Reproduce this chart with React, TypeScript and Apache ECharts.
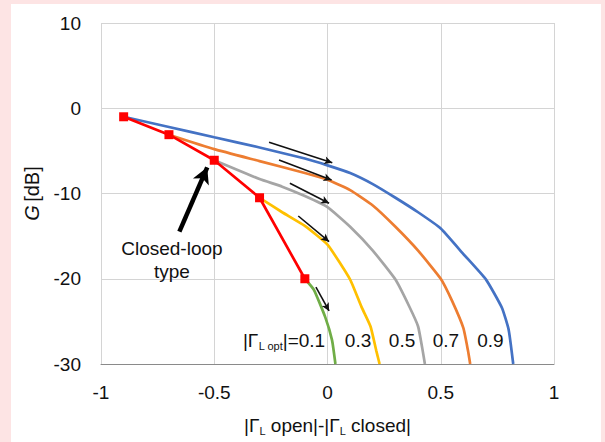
import React, { useEffect, useRef } from "react";
import * as echarts from "echarts";

const xTicks = [-1, -0.5, 0, 0.5, 1];
const yTicks = [-30, -20, -10, 0, 10];

const redX = [-0.9, -0.7, -0.5, -0.3, -0.1];
const redY = [-1, -3.1, -6.1, -10.5, -20];

const blueX = [-0.9, -0.7, -0.5, -0.3, -0.1, 0, 0.1, 0.2, 0.3, 0.4, 0.5, 0.6, 0.7, 0.77, 0.8, 0.82];
const blueY = [-1, -2.2, -3.4, -4.6, -5.9, -6.7, -7.6, -8.9, -10.5, -12.2, -14.1, -17.1, -20.1, -23.4, -26, -30];

const orangeX = [-0.7, -0.5, -0.3, -0.1, 0, 0.1, 0.2, 0.3, 0.4, 0.5, 0.55, 0.6, 0.62, 0.63];
const orangeY = [-3.1, -4.8, -6.2, -7.6, -8.4, -9.6, -11.4, -13.9, -16.7, -20, -22.6, -25.8, -28.4, -30];

const grayX = [-0.5, -0.3, -0.2, -0.1, 0, 0.1, 0.2, 0.3, 0.36, 0.4, 0.42, 0.43];
const grayY = [-6.1, -8.3, -9.2, -10.3, -11.6, -13.9, -16.7, -20.1, -23.2, -25.6, -28.4, -30];

const yellowX = [-0.3, -0.2, -0.1, 0, 0.1, 0.15, 0.19, 0.215, 0.23];
const yellowY = [-10.5, -12.2, -13.8, -16, -20.1, -23.3, -25.6, -28.4, -30];

const greenX = [-0.1, -0.06, -0.01, 0.02, 0.035];
const greenY = [-20, -21.3, -24.5, -27.2, -30];

// small direction arrows: [x1, y1, x2, y2]
const smallArrows = [
  [-0.258, -3.99, 0.021, -6.39],
  [-0.214, -6.07, 0.018, -8.42],
  [-0.166, -8.8, 0.007, -11.15],
  [-0.129, -12.64, 0.007, -15.65],
  [-0.051, -20.98, 0.007, -23.78],
];
const bigArrow = [-0.654, -14.48, -0.531, -6.93];

const curveLabels = ["0.3", "0.5", "0.7", "0.9"];
const curveLabelX = [0.135, 0.329, 0.523, 0.719];
const curveLabelY = -27.2;
const firstLabelX = -0.008;
const closedLoopLabel = [-0.687, -17.8];

const zip = (xs: number[], ys: number[]) => xs.map((x, i) => [x, ys[i]]);

const FONT = "'Liberation Sans', Arial, sans-serif";
const FS = 19;

export default function App() {
  const ref = useRef<HTMLDivElement>(null);

  useEffect(() => {
    document.body.style.margin = "0";
    const chart = echarts.init(ref.current!, undefined, { renderer: "svg" });

    const lineSeries = (name: string, xs: number[], ys: number[], color: string) => ({
      name,
      type: "line",
      data: zip(xs, ys),
      showSymbol: false,
      symbol: "none",
      smooth: 0.15,
      lineStyle: { color, width: 2.7 },
      itemStyle: { color },
      z: 3,
    });

    const subRich = {
      m: { fontSize: FS, fontFamily: FONT, color: "#111", lineHeight: 22 },
      s: { fontSize: 11, fontFamily: FONT, color: "#111", lineHeight: 11, padding: [11, 0, 0, 0] },
    };

    const option: any = {
      animation: false,
      backgroundColor: "transparent",
      grid: { left: 90, top: 19, width: 453, height: 341, containLabel: false },
      xAxis: {
        type: "value",
        min: -1,
        max: 1,
        interval: 0.5,
        axisLine: { show: true, onZero: false, lineStyle: { color: "#8a8a8a", width: 1 } },
        axisTick: { show: false },
        splitLine: { show: true, lineStyle: { color: "#d4d4d4", width: 1 } },
        axisLabel: {
          fontSize: FS,
          fontFamily: FONT,
          color: "#111",
          margin: 19,
          formatter: (v: number) => String(xTicks.find((t) => Math.abs(t - v) < 1e-9) ?? v),
        },
        name: "{m||Γ}{s|L}{m| open|-|Γ}{s|L}{m| closed|}",
        nameLocation: "middle",
        nameGap: 50,
        nameTextStyle: { rich: subRich },
      },
      yAxis: {
        type: "value",
        min: -30,
        max: 10,
        interval: 10,
        axisLine: { show: false },
        axisTick: { show: false },
        splitLine: { show: true, lineStyle: { color: "#d4d4d4", width: 1 } },
        axisLabel: {
          fontSize: FS,
          fontFamily: FONT,
          color: "#111",
          margin: 20,
          formatter: (v: number) => String(yTicks.find((t) => t === v) ?? v),
        },
        name: "{i|G} {n|[dB]}",
        nameLocation: "middle",
        nameRotate: 90,
        nameGap: 59,
        nameTextStyle: {
          rich: {
            i: { fontSize: 20, fontStyle: "italic", fontFamily: FONT, color: "#111" },
            n: { fontSize: 20, fontFamily: FONT, color: "#111" },
          },
        },
      },
      series: [
        lineSeries("0.9", blueX, blueY, "#4472C4"),
        lineSeries("0.7", orangeX, orangeY, "#ED7D31"),
        lineSeries("0.5", grayX, grayY, "#A5A5A5"),
        lineSeries("0.3", yellowX, yellowY, "#FFC000"),
        lineSeries("0.1", greenX, greenY, "#70AD47"),
        {
          name: "Closed-loop",
          type: "line",
          data: zip(redX, redY),
          symbol: "rect",
          symbolSize: 9,
          lineStyle: { color: "#FF0000", width: 2.7 },
          itemStyle: { color: "#FF0000" },
          z: 5,
          markLine: {
            silent: true,
            animation: false,
            label: { show: false },
            data: [
              ...smallArrows.map((a) => [
                { coord: [a[0], a[1]], symbol: "none", lineStyle: { color: "#111", width: 1.6, type: "solid" } },
                { coord: [a[2], a[3]], symbol: "arrow", symbolSize: [6, 8] },
              ]),
              [
                { coord: [bigArrow[0], bigArrow[1]], symbol: "none", lineStyle: { color: "#000", width: 4.5, type: "solid" } },
                { coord: [bigArrow[2], bigArrow[3]], symbol: "arrow", symbolSize: [13, 16] },
              ],
            ],
          },
          markPoint: {
            silent: true,
            animation: false,
            symbol: "rect",
            symbolSize: 1,
            itemStyle: { color: "rgba(0,0,0,0)" },
            data: [
              ...curveLabels.map((t, i) => ({
                coord: [curveLabelX[i], curveLabelY],
                label: {
                  show: true,
                  position: "inside",
                  formatter: t,
                  fontSize: FS,
                  fontFamily: FONT,
                  color: "#111",
                },
              })),
              {
                coord: [firstLabelX, curveLabelY],
                label: {
                  show: true,
                  position: "left",
                  distance: 0,
                  formatter: "{m||Γ}{s|L opt}{m||=0.1}",
                  rich: subRich,
                },
              },
              {
                coord: closedLoopLabel,
                label: {
                  show: true,
                  position: "inside",
                  formatter: "Closed-loop\ntype",
                  fontSize: FS,
                  lineHeight: 23,
                  align: "center",
                  fontFamily: FONT,
                  color: "#111",
                },
              },
            ],
          },
        },
      ],
    };

    chart.setOption(option);
    return () => chart.dispose();
  }, []);

  return (
    <div
      style={{
        position: "fixed",
        left: 0,
        top: 0,
        width: 605,
        height: 442,
        background: "#fde4e4",
      }}
    >
      <div
        style={{
          position: "absolute",
          left: 11,
          top: 4,
          width: 590,
          height: 438,
          background: "#ffffff",
        }}
      >
        <div ref={ref} style={{ width: 590, height: 438 }} />
      </div>
    </div>
  );
}
